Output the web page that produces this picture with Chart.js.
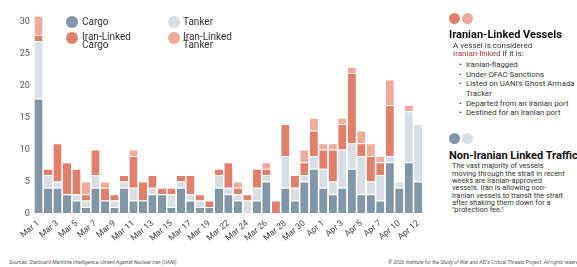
<!DOCTYPE html>
<html>
<head>
<meta charset="utf-8">
<script src="https://cdn.jsdelivr.net/npm/chart.js@4.4.1/dist/chart.umd.min.js"></script>
<style>
  html, body { margin: 0; padding: 0; background: #fff; width: 577px; height: 267px; overflow: hidden; font-family: Roboto, sans-serif; color: #222; }
  #wrap { position: relative; width: 577px; height: 267px; overflow: hidden; }
  #chart { position: absolute; left: 0; top: 0; }
  .abs { position: absolute; white-space: nowrap; }
  .dot { position: absolute; border-radius: 50%; }
  .leg { font-size: 10px; line-height: 8.7px; color: #333; }
  .side-h { font-size: 11px; font-weight: 700; line-height: 11px; color: #111; }
  .side-p { font-size: 8px; line-height: 8.5px; color: #333; }
  .side-ul { margin: 0; padding: 0; list-style: none; font-size: 7.8px; line-height: 9.6px; color: #333; }
  .side-ul li::before { content: "\2022"; position: absolute; margin-left: -7px; }
  .side-q { font-size: 7.4px; line-height: 7.33px; color: #333; }
  .foot { font-size: 5.1px; font-style: italic; color: #555; line-height: 6px; }
</style>
</head>
<body>
<div id="wrap">
  <canvas id="chart" width="430" height="250"></canvas>

  <!-- legend inside plot -->
  <div class="dot" style="left:66px;top:16px;width:12px;height:12px;background:#8197a7;"></div>
  <div class="abs leg" style="left:82px;top:17.6px;">Cargo</div>
  <div class="dot" style="left:168px;top:16px;width:12px;height:12px;background:#d8dee4;"></div>
  <div class="abs leg" style="left:183px;top:17.6px;">Tanker</div>
  <div class="dot" style="left:66px;top:32px;width:12px;height:12px;background:#e0806a;"></div>
  <div class="abs leg" style="left:82px;top:32.7px;">Iran-Linked<br>Cargo</div>
  <div class="dot" style="left:168px;top:32px;width:12px;height:12px;background:#efab99;"></div>
  <div class="abs leg" style="left:183px;top:32.7px;">Iran-Linked<br>Tanker</div>

  <!-- side panel -->
  <div class="dot" style="left:448.5px;top:12.5px;width:11px;height:11px;background:#e0806a;"></div>
  <div class="dot" style="left:461.5px;top:12.5px;width:11px;height:11px;background:#efab99;"></div>
  <div class="abs side-h" style="left:449px;top:28.5px;">Iranian-Linked Vessels</div>
  <div class="abs side-p" style="left:453px;top:41.8px;">A vessel is considered<br><span style="color:#b8322a;">Iranian-linked</span> if it is:</div>
  <ul class="abs side-ul" style="left:466px;top:60.2px;">
    <li>Iranian-flagged</li>
    <li>Under OFAC Sanctions</li>
    <li>Listed on UANI's Ghost Armada<br>Tracker</li>
    <li>Departed from an Iranian port</li>
    <li>Destined for an Iranian port</li>
  </ul>

  <div class="dot" style="left:448.5px;top:132.5px;width:11px;height:11px;background:#8197a7;"></div>
  <div class="dot" style="left:461.5px;top:132.5px;width:11px;height:11px;background:#d8dee4;"></div>
  <div class="abs side-h" style="left:449px;top:150px;">Non-Iranian Linked Traffic</div>
  <div class="abs side-q" style="left:452px;top:162.3px;">The vast majority of vessels<br>moving through the strait in recent<br>weeks are Iranian-approved<br>vessels. Iran is allowing non-<br>Iranian vessels to transit the strait<br>after shaking them down for a<br>"protection fee."</div>

  <!-- footer -->
  <div class="abs foot" style="left:9px;top:258.7px;">Sources: Starboard Maritime Intelligence, United Against Nuclear Iran (UANI)</div>
  <div class="abs foot" style="left:388px;top:258.7px;">© 2026 Institute for the Study of War and AEI's Critical Threats Project. All rights reserved.</div>
</div>

<script>
// daily transits, Mar 1 – Apr 12 (no data for Mar 20 and Apr 9)
const days = [
  'Mar 1', 'Mar 2', 'Mar 3', 'Mar 4', 'Mar 5', 'Mar 6', 'Mar 7', 'Mar 8', 'Mar 9', 'Mar 10',
  'Mar 11', 'Mar 12', 'Mar 13', 'Mar 14', 'Mar 15', 'Mar 16', 'Mar 17', 'Mar 18', 'Mar 19', 'Mar 21',
  'Mar 22', 'Mar 23', 'Mar 24', 'Mar 25', 'Mar 26', 'Mar 27', 'Mar 28', 'Mar 29', 'Mar 30', 'Mar 31',
  'Apr 1', 'Apr 2', 'Apr 3', 'Apr 4', 'Apr 5', 'Apr 6', 'Apr 7', 'Apr 8', 'Apr 10', 'Apr 11',
  'Apr 12'
];
const cargo =      [18,4,4,3,2,1,4,2,1,4, 2,2,3,3,1,4,2,1,1,4, 3,2,0,2,5,0,4,2,5,7, 4,3,4,7,3,3,2,8,4,8, 5];
const tanker =     [9,2,1,0,1,1,2,0,1,1, 2,0,1,0,2,1,1,1,0,2, 1,1,2,2,1,0,5,2,1,2, 3,2,6,4,6,2,4,1,1,8, 9];
const iranCargo =  [1,1,6,5,4,1,4,2,1,1, 5,3,2,1,1,1,3,1,1,1, 4,1,1,3,1,2,5,2,2,4, 3,5,4,11,2,4,2,8,0,0, 0];
const iranTanker = [3,0,0,0,0,2,0,1,0,0, 1,0,0,0,0,0,0,0,0,0, 0,1,0,0,1,0,0,0,2,2, 1,1,1,1,2,2,1,4,0,1, 0];
const yTicks = [0, 5, 10, 15, 20, 25, 30];

const makeSet = (label, data, color) => ({
    label,
    data,
    backgroundColor: color,
    borderColor: '#ffffff',
    borderWidth: { top: 1, left: 0, right: 0, bottom: 0 },
    borderSkipped: false,
    barPercentage: 0.86,
    categoryPercentage: 1
});

new Chart(document.getElementById('chart'), {
    type: 'bar',
    data: {
        labels: days,
        datasets: [
            makeSet('Cargo', cargo, '#8197a7'),
            makeSet('Tanker', tanker, '#d8dee4'),
            makeSet('Iran-Linked Cargo', iranCargo, '#e0806a'),
            makeSet('Iran-Linked Tanker', iranTanker, '#efab99')
        ]
    },
    options: {
        responsive: false,
        animation: false,
        layout: { padding: { top: 5.3, right: 7, left: 0, bottom: 0 } },
        plugins: { legend: { display: false }, tooltip: { enabled: false } },
        scales: {
            x: {
                stacked: true,
                grid: { display: false, drawTicks: false },
                border: { display: false },
                ticks: {
                    autoSkip: false,
                    minRotation: 40,
                    maxRotation: 40,
                    padding: 5,
                    color: '#444',
                    font: { family: 'Roboto', size: 8.5 },
                    callback: (v, i) => (i % 2 === 0 ? days[i] : '')
                },
                afterFit: (s) => { s.height = 36.7; }
            },
            y: {
                stacked: true,
                min: 0,
                max: 32,
                grid: { display: false, drawTicks: false },
                border: { display: false },
                afterBuildTicks: (s) => { s.ticks = yTicks.map(v => ({ value: v })); },
                ticks: {
                    padding: 4,
                    color: '#555',
                    font: { family: 'Roboto', size: 9 }
                },
                afterFit: (s) => { s.width = 33.75; }
            }
        }
    }
});
</script>
</body>
</html>
